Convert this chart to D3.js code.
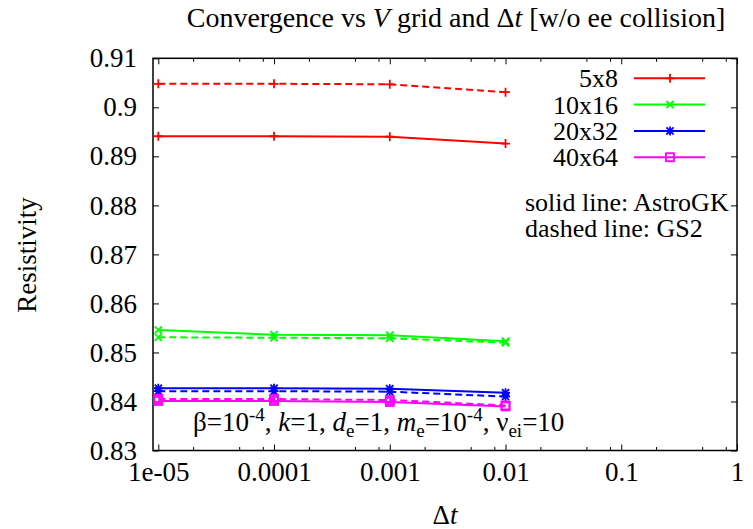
<!DOCTYPE html>
<html>
<head>
<meta charset="utf-8">
<script src="https://cdn.jsdelivr.net/npm/d3@7"></script>
<style>
  body { margin: 0; background: #fff; }
  svg text { font-family: "Liberation Serif", "Times New Roman", Times, "DejaVu Serif", serif; }
</style>
</head>
<body>
<script>
let w = 753;
let h = 529;

// data
const dt = [1e-5, 1e-4, 1e-3, 1e-2];
const grids = ["5x8", "10x16", "20x32", "40x64"];
const colors = ["#ff0000", "#00ff00", "#0000ff", "#ff00ff"];
const astroGK = [
  [0.8941, 0.8941, 0.8940, 0.8926],
  [0.8546, 0.8536, 0.8535, 0.8523],
  [0.8427, 0.8427, 0.8426, 0.8418],
  [0.8401, 0.8401, 0.8399, 0.8390]
];
const gs2 = [
  [0.9048, 0.9048, 0.9047, 0.9031],
  [0.8531, 0.8530, 0.8529, 0.8520],
  [0.8421, 0.8421, 0.8420, 0.8410],
  [0.8405, 0.8405, 0.8403, 0.8392]
];
const xTicks = [1e-5, 1e-4, 1e-3, 1e-2, 1e-1, 1];
const xTickLabels = ["1e-05", "0.0001", "0.001", "0.01", "0.1", "1"];
const yTicks = [0.83, 0.84, 0.85, 0.86, 0.87, 0.88, 0.89, 0.9, 0.91];

let pl = 153, pr = 737, pt = 58.3, pb = 450.5;
const serif = "'Liberation Serif', 'Times New Roman', Times, 'DejaVu Serif', serif";

let svg = d3.select("body")
            .append("svg")
            .attr("width", w)
            .attr("height", h)
            .attr("font-family", serif);

let x = d3.scaleLog().domain([9e-6, 1]).range([pl, pr]);
let y = d3.scaleLinear().domain([0.83, 0.91]).range([pb, pt]);

// minor ticks at 2, 5, 8 of each decade
let minor = [];
for (let e = -6; e < 0; e++) {
  [2, 5, 8].forEach(m => {
    let v = m * Math.pow(10, e);
    if (v > 9e-6 && v < 1) minor.push(v);
  });
}

const fontSize = 27;
const keySize = 26;
const small = 19;

let xAxis = d3.axisBottom(x).tickValues(xTicks)
  .tickFormat((d, i) => xTickLabels[i]).tickSize(-6).tickPadding(11);
svg.append("g").attr("transform", `translate(0,${pb})`).call(xAxis);
svg.append("g").attr("transform", `translate(0,${pt})`)
  .call(d3.axisTop(x).tickValues(xTicks).tickFormat("").tickSize(-6));
svg.append("g").attr("transform", `translate(0,${pb})`)
  .call(d3.axisBottom(x).tickValues(minor).tickFormat("").tickSize(-3.5));
svg.append("g").attr("transform", `translate(0,${pt})`)
  .call(d3.axisTop(x).tickValues(minor).tickFormat("").tickSize(-3.5));

let yAxis = d3.axisLeft(y).tickValues(yTicks)
  .tickFormat(d => String(+d.toFixed(2))).tickSize(-6).tickPadding(16);
svg.append("g").attr("transform", `translate(${pl},0)`).call(yAxis);
svg.append("g").attr("transform", `translate(${pr},0)`)
  .call(d3.axisRight(y).tickValues(yTicks).tickFormat("").tickSize(-6));

svg.selectAll(".domain").remove();
svg.selectAll("g").attr("font-family", serif);
svg.selectAll(".tick line").attr("stroke", "#000").attr("stroke-width", 1);
svg.selectAll(".tick text")
  .attr("font-size", fontSize)
  .attr("fill", "#000");

// border
svg.append("rect")
  .attr("x", pl).attr("y", pt)
  .attr("width", pr - pl).attr("height", pb - pt)
  .attr("fill", "none").attr("stroke", "#000").attr("stroke-width", 1.5);

// point symbols, gnuplot style
const symbol = (g, k, cx, cy, col) => {
  let s = 4.5;
  let p = g.append("g").attr("transform", `translate(${cx},${cy})`)
    .attr("stroke", col).attr("stroke-width", 1.8).attr("fill", "none");
  if (k === 0 || k === 2) {
    p.append("path").attr("d", `M${-s},0H${s}M0,${-s}V${s}`);
  }
  if (k === 1 || k === 2) {
    let t = s * 0.8;
    p.append("path").attr("d", `M${-t},${-t}L${t},${t}M${-t},${t}L${t},${-t}`);
  }
  if (k === 3) {
    p.append("rect").attr("x", -4).attr("y", -4).attr("width", 8).attr("height", 8);
  }
};

let line = d3.line().x(d => x(d[0])).y(d => y(d[1]));

let plot = svg.append("g");
[gs2, astroGK].forEach((set, si) => {
  set.forEach((vals, k) => {
    let pts = vals.map((v, i) => [dt[i], v]);
    plot.append("path")
      .datum(pts)
      .attr("d", line)
      .attr("fill", "none")
      .attr("stroke", colors[k])
      .attr("stroke-width", 2)
      .attr("stroke-dasharray", si === 0 ? "7,4" : null);
    pts.forEach(p => symbol(plot, k, x(p[0]), y(p[1]), colors[k]));
  });
});

// legend
let legend = svg.append("g");
grids.forEach((g, k) => {
  let ly = 78.3 + k * 26.3;
  legend.append("text")
    .attr("x", 618).attr("y", ly + 9)
    .attr("text-anchor", "end")
    .attr("font-size", keySize)
    .text(g);
  legend.append("line")
    .attr("x1", 634).attr("x2", 705).attr("y1", ly).attr("y2", ly)
    .attr("stroke", colors[k]).attr("stroke-width", 2);
  symbol(legend, k, 670, ly, colors[k]);
});

svg.append("text").attr("x", 525).attr("y", 211)
  .attr("font-size", keySize).text("solid line: AstroGK");
svg.append("text").attr("x", 525).attr("y", 237)
  .attr("font-size", keySize).text("dashed line: GS2");

// parameters note
let note = svg.append("text").attr("x", 193).attr("y", 431)
  .attr("font-size", fontSize);
note.append("tspan").text("\u03b2=10");
note.append("tspan").attr("dy", -10).attr("font-size", small).text("-4");
note.append("tspan").attr("dy", 10).text(", ");
note.append("tspan").attr("font-style", "italic").text("k");
note.append("tspan").text("=1, ");
note.append("tspan").attr("font-style", "italic").text("d");
note.append("tspan").attr("dy", 6).attr("font-size", small).text("e");
note.append("tspan").attr("dy", -6).text("=1, ");
note.append("tspan").attr("font-style", "italic").text("m");
note.append("tspan").attr("dy", 6).attr("font-size", small).text("e");
note.append("tspan").attr("dy", -6).text("=10");
note.append("tspan").attr("dy", -10).attr("font-size", small).text("-4");
note.append("tspan").attr("dy", 10).text(", \u03bd");
note.append("tspan").attr("dy", 6).attr("font-size", small).text("ei");
note.append("tspan").attr("dy", -6).text("=10");

// title
let title = svg.append("text").attr("x", 456).attr("y", 27)
  .attr("text-anchor", "middle").attr("font-size", 28);
title.append("tspan").text("Convergence vs ");
title.append("tspan").attr("font-style", "italic").text("V");
title.append("tspan").text(" grid and \u0394");
title.append("tspan").attr("font-style", "italic").text("t");
title.append("tspan").text(" [w/o ee collision]");

// axis labels
let xl = svg.append("text").attr("x", 445).attr("y", 524)
  .attr("text-anchor", "middle").attr("font-size", fontSize);
xl.append("tspan").text("\u0394");
xl.append("tspan").attr("font-style", "italic").text("t");

svg.append("text")
  .attr("transform", "translate(36,255) rotate(-90)")
  .attr("text-anchor", "middle").attr("font-size", fontSize)
  .text("Resistivity");
</script>
</body>
</html>
